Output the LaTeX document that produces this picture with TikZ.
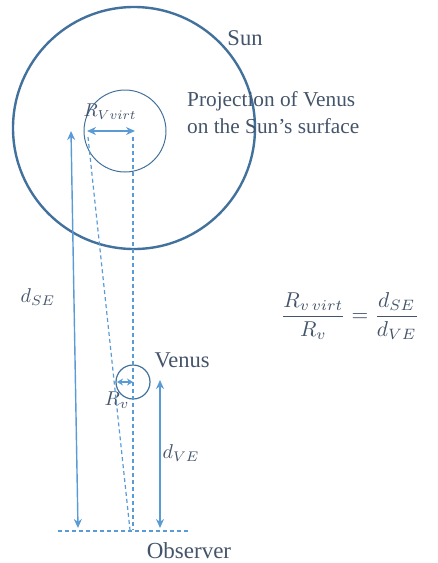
\documentclass[tikz,border=0pt]{standalone}
\usepackage{amsmath}
\usepackage{graphicx}
\usepackage{fontspec}
\setmainfont{Liberation Serif}
\usepackage{tikz}
\usetikzlibrary{arrows.meta,positioning,calc}
\usepackage{xcolor}
\definecolor{outline}{HTML}{41719C}
\definecolor{arrowblue}{HTML}{5B9BD5}
\definecolor{textgray}{HTML}{44546A}

\newcommand{\bigmath}[2]{\scalebox{#1}{$#2$}}

\tikzset{
  body/.style={circle, draw=outline, inner sep=0pt},
  dim/.style={draw=arrowblue, line width=1.4pt, <->},
  guide/.style={draw=arrowblue, line width=1.2pt, dash pattern=on 4pt off 3pt},
  lbl/.style={text=textgray, font=\fontsize{22.5}{26}\selectfont, inner sep=0pt},
  mlbl/.style={text=textgray, font=\normalsize, inner sep=0pt},
}

\begin{document}
\begin{tikzpicture}[x=1pt, y=-1pt, >={Stealth[length=9pt,width=8pt]}]
  \useasboundingbox (0,0) rectangle (438,563);

  % Define the bodies
  \node[body, line width=2.4pt, minimum size=242pt] (sun) at (134,128) {};
  \node[body, line width=1pt, minimum size=82pt] (proj) at (125,131) {};
  \node[body, line width=1.2pt, minimum size=34pt] (venus) at (133,382) {};

  % Define coordinates for the ends of the lines
  \coordinate (pl) at (87,131);
  \coordinate (pr) at (135,131);
  \coordinate (pltop) at (88,137);
  \coordinate (prtop) at (133,137);
  \coordinate (obsl) at (130,530);
  \coordinate (obsr) at (133,530);
  \coordinate (setop) at (71,131);
  \coordinate (sebot) at (78,528);
  \coordinate (vl) at (117,382);
  \coordinate (vr) at (133,382);
  \coordinate (vetop) at (160,380);
  \coordinate (vebot) at (160,528);
  \coordinate (basel) at (58,531);
  \coordinate (baser) at (190,531);

  % Labels
  \node[lbl] (sunlbl) at (245,38) {Sun};
  \node[lbl, anchor=west, align=left, font=\fontsize{21.3}{27}\selectfont] (projlbl) at (187,113)
    {Projection of Venus\\on the Sun’s surface};
  \node[mlbl] (rvvirt) at (110,112) {\bigmath{1.85}{R_{Vvirt}}};
  \node[mlbl] (dse) at (38,297) {\bigmath{2}{d_{SE}}};
  \node[lbl] (venuslbl) at (182,360) {Venus};
  \node[mlbl] (rv) at (117,400) {\bigmath{2}{R_v}};
  \node[mlbl] (dve) at (181,453) {\bigmath{2}{d_{VE}}};
  \node[lbl, font=\fontsize{23}{27}\selectfont] (observer) at (189,551) {Observer};
  \node[mlbl] (ratio) at (350,316)
    {\bigmath{2.15}{\dfrac{R_{v\,virt}}{R_v}=\dfrac{d_{SE}}{d_{VE}}}};

  % Draw the guide lines
  \draw[guide] (pltop) -- (obsl);
  \draw[guide] (prtop) -- (obsr);
  \draw[guide] (basel) -- (baser);

  % Draw the dimension arrows
  \draw[dim] (pl) -- (pr);
  \draw[dim] (setop) -- (sebot);
  \draw[dim, >={Stealth[length=6pt,width=7pt]}] (vl) -- (vr);
  \draw[dim] (vetop) -- (vebot);
\end{tikzpicture}
\end{document}
